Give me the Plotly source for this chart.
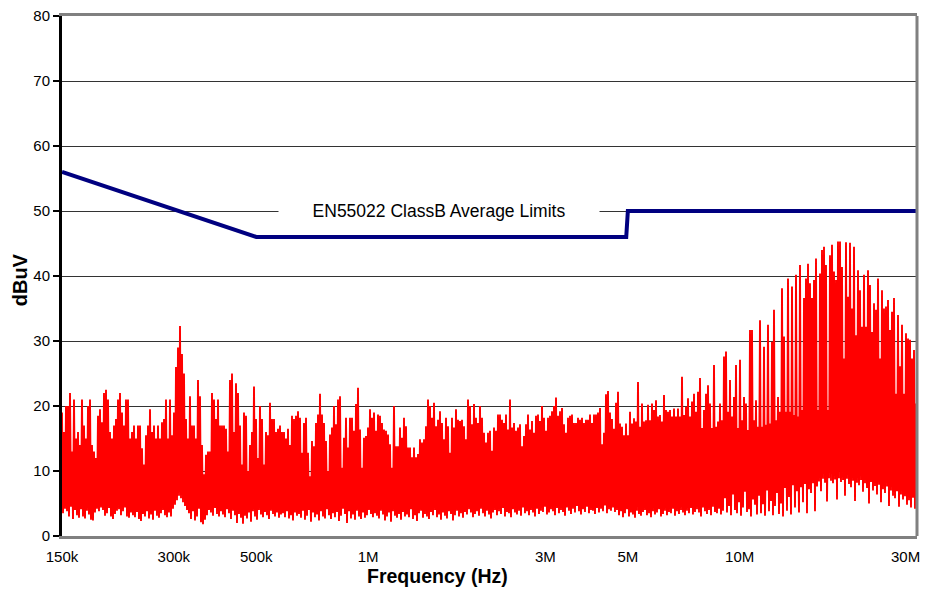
import numpy as np
import plotly.graph_objects as go

# ---------------- data ----------------
# Spectrum analyser sweep: start / stop frequency (Hz)
sweep_start_hz = 150e3
sweep_stop_hz = 30e6

# Peak readings (dBuV), 150 kHz .. ~1.3 MHz
peaks_a = [19, 16, 20, 20, 22, 13, 21, 15, 16, 14,
           21, 17, 15, 20, 21, 14, 13, 12, 18.5, 19.5,
           17.5, 22, 22.5, 21, 16, 15, 17, 18, 21, 22,
           19, 17, 21, 21, 15, 16, 17, 15, 17, 17,
           13.5, 11, 15.5, 17, 19.5, 16, 17, 15, 17, 15,
           17.5, 18, 21, 15, 21, 15.5, 19, 26, 29, 32.3,
           28, 25, 18, 15, 21.5, 17, 17, 15, 24, 21.5,
           14, 9.5, 12.5, 13, 13, 22, 21, 18, 21, 17,
           17, 17, 16.5, 13, 24, 25, 16, 23.5, 22, 17,
           11, 19, 18.5, 10, 14, 16, 23, 18, 12, 20,
           18, 11, 16, 15.5, 20.5, 18, 18, 16, 16.5, 17,
           16, 16, 15, 16.5, 14, 18.5, 18, 18.5]
troughs_a = [3.5, 4.2, 3.8, 3.0, 4.5, 2.6, 4.0, 3.2, 2.8, 4.1,
             3.0, 2.7, 3.9, 3.3, 2.5, 2.4, 3.6, 4.2, 3.8, 4.4,
             4.0, 3.1, 3.5, 4.3, 3.0, 2.6, 3.4, 3.9, 4.1, 3.2,
             3.8, 4.4, 3.0, 2.8, 3.6, 3.2, 2.9, 3.7, 2.6, 2.3,
             3.4, 3.0, 3.8, 2.7, 3.3, 2.5, 3.9, 3.1, 2.8, 3.5,
             4.0, 3.2, 2.9, 3.6, 3.0, 4.2, 4.8, 5.5, 6.2, 5.8,
             5.2, 4.6, 4.0, 3.5, 2.6, 3.8, 2.4, 3.0, 4.2, 2.1,
             1.8, 2.5, 3.2, 4.0, 3.6, 3.1, 4.3, 3.4, 3.0, 3.8,
             3.3, 2.9, 4.1, 3.5, 2.6, 3.9, 3.2, 2.0, 3.4, 2.8,
             1.9, 3.1, 2.7, 3.6, 2.2, 3.8, 3.0, 2.5, 4.0, 3.3,
             2.9, 3.7, 3.2, 2.6, 3.9, 3.4, 3.0, 3.6, 2.8, 3.3,
             3.5, 2.9, 3.8, 2.7, 3.2, 2.4, 3.6, 3.1]

# ~1.3 MHz .. ~5 MHz
peaks_b = [19.2, 18.2, 12.8, 17.4, 18.2, 12.8, 9.2, 14.6, 13.8, 17.4,
           18.7, 21.9, 18.7, 17.4, 14.6, 10.0, 15.6, 16.7, 20.0, 17.2,
           21.0, 21.5, 10.5, 15.1, 18.2, 13.6, 18.2, 18.2, 16.2, 20.3,
           22.8, 16.4, 10.5, 15.1, 15.4, 16.7, 19.5, 18.2, 19.0, 16.2,
           18.7, 18.5, 17.4, 16.4, 16.2, 15.6, 14.1, 10.5, 20.0, 13.8,
           13.8, 16.7, 15.1, 18.2, 16.9, 13.6, 13.6, 12.1, 13.6, 12.1,
           12.6, 14.9, 14.4, 14.9, 16.9, 21.0, 20.0, 18.2, 20.5, 16.9,
           17.9, 19.2, 17.4, 14.9, 18.2, 16.9, 12.8, 18.2, 16.7, 19.5,
           17.9, 17.7, 17.9, 16.9, 14.9, 21.0, 20.0, 17.2, 20.3, 18.2,
           17.4, 20.0, 18.2, 15.9, 14.4, 15.9, 16.2, 13.1, 16.7, 16.2,
           18.7, 18.7, 17.9, 17.4, 18.7, 16.4, 21.0, 16.7, 17.4, 16.2,
           16.7, 17.2, 13.8, 15.4, 17.2, 18.7, 16.4, 17.7, 15.9, 18.5,
           18.7, 17.7, 20.0, 18.2, 16.2, 18.2, 18.5, 19.2, 20.0, 21.3,
           18.5, 19.2, 19.7, 17.2, 15.9, 18.2, 18.5, 18.7, 17.4, 17.4,
           18.2, 17.9, 18.2, 17.4, 17.9, 17.9, 18.7, 17.4, 18.7, 18.7,
           19.0, 19.7, 14.1, 15.9, 21.8, 22.3, 19.0, 18.0, 16.5, 20.5]
troughs_b = [3.4, 2.8, 3.9, 2.5, 3.1, 4.0, 2.2, 3.6, 2.9, 3.3,
             2.4, 3.8, 3.0, 2.7, 4.1, 3.2, 2.6, 3.5, 2.9, 3.7,
             2.3, 3.1, 4.2, 3.4, 2.0, 3.8, 2.7, 3.3, 2.5, 3.9,
             3.0, 2.6, 3.6, 2.8, 3.2, 4.0, 3.4, 2.9, 3.5, 3.1,
             2.7, 3.9, 3.3, 2.4, 3.0, 3.6, 2.2, 3.8, 3.1, 2.8,
             3.4, 2.5, 3.7, 3.0, 3.3, 2.9, 4.1, 2.6, 3.2, 2.3,
             3.5, 3.9, 2.8, 3.4, 3.0, 2.6, 3.7, 3.2, 4.0, 2.9,
             3.3, 2.5, 3.6, 3.1, 2.7, 3.8, 3.4, 2.4, 3.2, 3.9,
             3.0, 3.5, 2.8, 3.7, 3.3, 4.1, 3.6, 2.9, 3.4, 3.8,
             3.1, 4.2, 3.5, 3.0, 3.9, 3.3, 2.7, 3.6, 4.0, 3.2,
             3.8, 3.4, 4.3, 3.0, 3.7, 3.5, 2.9, 4.1, 3.6, 3.3,
             3.9, 3.1, 4.4, 3.5, 3.8, 3.2, 4.0, 3.6, 3.0, 4.2,
             3.4, 3.9, 3.7, 4.5, 3.3, 3.6, 4.1, 3.8, 3.2, 4.3,
             3.5, 4.0, 3.7, 3.1, 4.4, 3.9, 3.4, 4.2, 3.6, 4.6,
             3.8, 3.3, 4.1, 3.7, 4.5, 3.5, 4.0, 3.9, 3.4, 4.3,
             3.6, 4.2, 3.8, 4.7, 3.5, 4.1, 3.9, 4.4, 3.7, 4.0]

# ~5 MHz .. 30 MHz
peaks_c = [22.2, 17.3, 16.8, 15.5, 17.3, 15.5, 19.1, 17.3, 18.1, 17.6,
           23.7, 16.8, 20.4, 17.6, 17.8, 20.2, 17.8, 20.4, 19.4, 20.9,
           18.4, 18.6, 17.6, 21.7, 19.4, 19.1, 19.4, 18.4, 19.6, 18.4,
           19.6, 18.4, 24.5, 18.6, 19.9, 21.2, 18.4, 20.7, 21.9, 19.1,
           22.2, 24.3, 16.6, 19.4, 21.9, 23.2, 20.4, 16.6, 26.3, 16.8,
           17.6, 20.4, 17.8, 27.6, 28.4, 19.1, 24.0, 18.4, 21.4, 26.3,
           16.6, 27.1, 17.8, 21.4, 20.4, 16.3, 31.7, 31.7, 17.8, 20.9,
           16.8, 33.2, 16.8, 29.1, 17.1, 32.5, 17.3, 29.9, 34.8, 17.8,
           21.4, 19.1, 38.1, 30.7, 19.1, 39.6, 19.1, 38.4, 18.6, 40.2,
           18.4, 41.7, 19.4, 36.6, 39.6, 41.9, 38.9, 36.6, 39.4, 42.7,
           19.4, 40.4, 44.0, 44.5, 41.7, 19.4, 43.2, 44.8, 40.7, 39.4,
           45.3, 45.3, 41.4, 27.3, 45.2, 36.8, 45.1, 35.0, 44.5, 30.9,
           40.9, 37.8, 32.2, 40.2, 32.2, 40.9, 38.6, 31.4, 35.8, 34.8,
           39.6, 27.3, 37.8, 35.0, 35.3, 36.3, 31.7, 34.5, 36.6, 21.9,
           34.0, 26.1, 32.5, 21.9, 31.2, 30.4, 30.2, 27.3, 28.6, 20.4]
troughs_c = [3.2, 3.8, 2.9, 3.5, 4.1, 3.0, 3.6, 3.3, 2.8, 3.9,
             3.4, 3.1, 3.7, 4.0, 3.2, 3.5, 2.9, 3.8, 3.3, 3.6,
             4.1, 3.0, 3.4, 3.9, 3.2, 3.7, 3.5, 4.2, 3.1, 3.8,
             3.4, 4.0, 3.6, 3.2, 3.9, 3.5, 4.3, 3.3, 3.7, 4.1,
             3.6, 3.0, 4.4, 3.8, 3.4, 4.0, 3.2, 4.5, 3.7, 3.5,
             4.2, 3.3, 3.9, 5.8, 3.6, 4.6, 3.2, 6.4, 4.0, 3.5,
             5.2, 3.1, 4.4, 6.8, 3.7, 4.1, 3.0, 5.6, 4.8, 3.3,
             6.2, 3.5, 4.9, 3.1, 7.0, 3.8, 5.4, 3.2, 4.6, 6.6,
             3.4, 5.0, 3.0, 7.4, 3.9, 6.0, 3.3, 7.8, 4.4, 6.9,
             3.6, 7.5, 5.2, 8.0, 3.5, 7.2, 6.6, 8.1, 3.8, 7.6,
             8.4, 6.9, 8.8, 8.2, 5.3, 8.9, 8.5, 8.1, 8.7, 5.6,
             8.9, 8.3, 8.6, 6.2, 8.8, 8.0, 7.5, 8.5, 5.4, 8.2,
             7.8, 8.6, 6.8, 8.1, 7.4, 5.0, 8.3, 7.0, 7.7, 6.4,
             7.9, 5.2, 7.2, 6.6, 7.6, 4.6, 7.0, 6.2, 5.8, 6.9,
             4.5, 6.4, 5.6, 6.1, 4.8, 5.5, 4.4, 5.9, 4.2, 3.8]

# EN55022 Class B average limit
limit_freq_hz = [150e3, 500e3, 4.95e6, 5e6, 30e6]
limit_dbuv = [56, 46, 46, 50, 50]

tick_freqs = [150e3, 300e3, 500e3, 1e6, 3e6, 5e6, 10e6, 30e6]
tick_labels = ["150k", "300k", "500k", "1M", "3M", "5M", "10M", "30M"]
y_ticks = [0, 10, 20, 30, 40, 50, 60, 70, 80]

# ---------------- build measured trace ----------------
peaks = peaks_a + peaks_b + peaks_c
troughs = troughs_a + troughs_b + troughs_c
n = min(len(peaks), len(troughs))
levels = []
for p, t in zip(peaks[:n], troughs[:n]):
    levels += [p, t]
freqs = np.geomspace(sweep_start_hz, sweep_stop_hz, len(levels))

FONT = "Liberation Sans, Arial, sans-serif"

fig = go.Figure()
fig.add_trace(go.Scatter(x=freqs, y=levels, mode="lines",
                         line=dict(color="#ff0000", width=1.9),
                         hoverinfo="skip", showlegend=False))
fig.add_trace(go.Scatter(x=limit_freq_hz, y=limit_dbuv, mode="lines",
                         line=dict(color="#000080", width=4),
                         showlegend=False))

# the last tick label sits at the window edge: draw it right-aligned
axis_ticktext = tick_labels[:-1] + [""]

# page body has an 8px margin -> figure sits at (8, 8) in the window
fig.update_layout(
    width=914, height=579,
    margin=dict(l=54, r=5, t=8, b=51, autoexpand=False),
    paper_bgcolor="white", plot_bgcolor="white",
    font=dict(family=FONT, size=15, color="black"),
    showlegend=False,
    xaxis=dict(type="log", automargin=False,
               range=[np.log10(sweep_start_hz), np.log10(sweep_stop_hz)],
               tickvals=tick_freqs, ticktext=axis_ticktext,
               showgrid=False, zeroline=False,
               showline=True, linecolor="#808080", linewidth=3, mirror=True,
               ticks="outside", ticklen=5, tickcolor="rgba(0,0,0,0)",
               ticklabeloverflow="allow",
               tickfont=dict(size=15, family=FONT)),
    yaxis=dict(range=[0, 80], tickvals=y_ticks, automargin=False,
               showgrid=True, gridcolor="#333333", gridwidth=1,
               zeroline=False,
               showline=True, linecolor="black", linewidth=3,
               ticks="outside", ticklen=6, tickwidth=2, tickcolor="black",
               ticklabeloverflow="allow",
               tickfont=dict(size=15, family=FONT)),
    shapes=[dict(type="line", xref="paper", yref="paper",
                 x0=1, x1=1, y0=0, y1=1,
                 line=dict(color="#808080", width=3))],
    annotations=[
        dict(text="EN55022 ClassB Average Limits", xref="paper", yref="y",
             x=0.4415, y=50, xanchor="center", yanchor="middle",
             showarrow=False, bgcolor="white",
             width=318, height=24, font=dict(size=17.5, family=FONT)),
        dict(text=tick_labels[-1], xref="paper", yref="paper",
             x=1, xshift=5, y=-0.0385, xanchor="right", yanchor="middle",
             showarrow=False, font=dict(size=15, family=FONT)),
        dict(text="<b>Frequency (Hz)</b>", xref="paper", yref="paper",
             x=0.4386, y=-0.0769, xanchor="center", yanchor="middle",
             showarrow=False, font=dict(size=19.5, family=FONT)),
        dict(text="<b>dBuV</b>", xref="paper", yref="paper",
             x=-0.049, y=0.492, xanchor="center", yanchor="middle",
             showarrow=False, textangle=-90,
             font=dict(size=20, family=FONT)),
    ],
)

fig.write_html("out.html")
